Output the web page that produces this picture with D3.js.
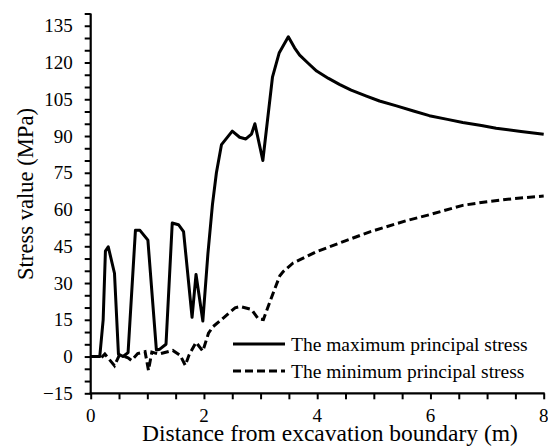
<!DOCTYPE html>
<html>
<head>
<meta charset="utf-8">
<script src="https://cdn.jsdelivr.net/npm/d3@7"></script>
<style>
html,body{margin:0;padding:0;background:#fff;}
svg{display:block;}
</style>
</head>
<body>
<svg id="chart" width="548" height="446"></svg>
<script>
// Data
const maxX = [0, 0.16, 0.22, 0.26, 0.31, 0.42, 0.49, 0.57, 0.66, 0.79, 0.87, 1.01, 1.16, 1.22, 1.33, 1.44, 1.55, 1.64, 1.79, 1.86, 1.98, 2.07, 2.15, 2.22, 2.31, 2.50, 2.63, 2.74, 2.84, 2.90, 3.04, 3.21, 3.33, 3.49, 3.60, 3.69, 3.85, 3.99, 4.2, 4.40, 4.6, 4.87, 5.1, 5.40, 5.7, 5.98, 6.3, 6.57, 6.9, 7.16, 7.6, 8.0];
const maxY = [0, 0, 15, 43, 44.8, 34, 1, 0, 1.6, 51.5, 51.5, 47.5, 2.7, 3, 5, 54.5, 53.8, 51, 16, 33.5, 14.5, 42, 62, 75, 86.5, 92, 89.5, 88.8, 90.8, 95, 80, 114, 124, 130.5, 126, 123, 119.5, 116.5, 113.5, 111, 108.7, 106.3, 104.3, 102.3, 100.2, 98.3, 96.8, 95.5, 94.3, 93.2, 91.8, 90.7];
const minX = [0.19, 0.25, 0.42, 0.50, 0.60, 0.66, 0.72, 0.83, 0.96, 1.02, 1.08, 1.20, 1.45, 1.58, 1.67, 1.74, 1.86, 1.98, 2.08, 2.16, 2.31, 2.55, 2.64, 2.84, 2.96, 3.05, 3.19, 3.34, 3.40, 3.57, 3.99, 4.46, 4.93, 5.57, 6.0, 6.57, 7.0, 7.45, 8.0];
const minY = [-0.4, 1, -3.7, 0.3, 0, -0.5, -1.6, 1.2, 2, -5.6, 1.8, 1.0, 2.5, 0.5, -3.6, 0.8, 5.8, 2.2, 9.5, 12.2, 15.1, 19.9, 20.4, 19.2, 15.4, 15.1, 23.9, 33, 34.7, 38.1, 42.8, 46.9, 50.9, 55.4, 58, 61.7, 63.2, 64.4, 65.5];
const xTicks = [0, 2, 4, 6, 8];
const yTicks = [-15, 0, 15, 30, 45, 60, 75, 90, 105, 120, 135];
const seriesNames = ["The maximum principal stress", "The minimum principal stress"];
const xTitle = "Distance from excavation boundary (m)";
const yTitle = "Stress value (MPa)";

const FONT = "Liberation Serif";
const svg = d3.select("#chart").attr("font-family", FONT);
const mLeft = 90.7, mRight = 543.7, mTop = 13.5, mBottom = 393.3;
const x = d3.scaleLinear().domain([0, 8]).range([mLeft, mRight]);
const y = d3.scaleLinear().domain([-15, 140]).range([mBottom, mTop]);

// minor ticks
const xMinor = d3.range(0, 8.01, 0.5);
const yMinor = d3.range(-15, 140.01, 5);

const gx = svg.append("g").attr("transform", `translate(0,${mBottom})`);
gx.call(d3.axisBottom(x).tickValues(xMinor).tickSize(6).tickFormat(""));
gx.call(g => g.select(".domain").remove());
gx.selectAll(".tick line").attr("stroke", "#000").attr("stroke-width", 2);
gx.append("line").attr("x1", mLeft - 1).attr("x2", mRight + 1).attr("stroke", "#000").attr("stroke-width", 2.2);
svg.append("g").selectAll("text").data(xTicks).join("text")
  .attr("x", d => x(d)).attr("y", mBottom + 29)
  .attr("text-anchor", "middle").attr("font-family", FONT).attr("font-size", 19).attr("fill", "#000")
  .text(d => d3.format("d")(d));

const gy = svg.append("g").attr("transform", `translate(${mLeft},0)`);
gy.call(d3.axisLeft(y).tickValues(yMinor).tickSize(6).tickFormat(""));
gy.call(g => g.select(".domain").remove());
gy.selectAll(".tick line").attr("stroke", "#000").attr("stroke-width", 2);
gy.append("line").attr("y1", mTop).attr("y2", mBottom + 1).attr("stroke", "#000").attr("stroke-width", 2.2);
svg.append("g").selectAll("text").data(yTicks).join("text")
  .attr("x", mLeft - 18).attr("y", d => y(d) + 6.5)
  .attr("text-anchor", "end").attr("font-family", FONT).attr("font-size", 19).attr("fill", "#000")
  .text(d => d3.format("d")(d));

// titles
svg.append("text").attr("x", 330).attr("y", 441).attr("text-anchor", "middle")
  .attr("font-family", FONT).attr("font-size", 23.5).attr("fill", "#000").text(xTitle);
svg.append("text").attr("transform", "translate(33,194) rotate(-90)").attr("text-anchor", "middle")
  .attr("font-family", FONT).attr("font-size", 22.6).attr("fill", "#000").text(yTitle);

// lines
const line = d3.line().x(d => x(d[0])).y(d => y(d[1]));
const maxData = maxX.map((v, i) => [v, maxY[i]]);
const minData = minX.map((v, i) => [v, minY[i]]);
svg.append("path").datum(maxData).attr("d", line).attr("fill", "none")
  .attr("stroke", "#000").attr("stroke-width", 3).attr("stroke-linejoin", "round");
svg.append("path").datum(minData).attr("d", line).attr("fill", "none")
  .attr("stroke", "#000").attr("stroke-width", 3).attr("stroke-dasharray", "8,4");

// legend
const legend = svg.append("g");
const legY = [344, 371];
legend.selectAll("line").data(seriesNames).join("line")
  .attr("x1", 233).attr("x2", 285).attr("y1", (d, i) => legY[i]).attr("y2", (d, i) => legY[i])
  .attr("stroke", "#000").attr("stroke-width", 3)
  .attr("stroke-dasharray", (d, i) => i ? "8,4" : null);
legend.selectAll("text").data(seriesNames).join("text")
  .attr("x", 291).attr("y", (d, i) => legY[i] + 6.5)
  .attr("font-family", FONT).attr("font-size", 19.5).attr("fill", "#000").text(d => d);
</script>
</body>
</html>
